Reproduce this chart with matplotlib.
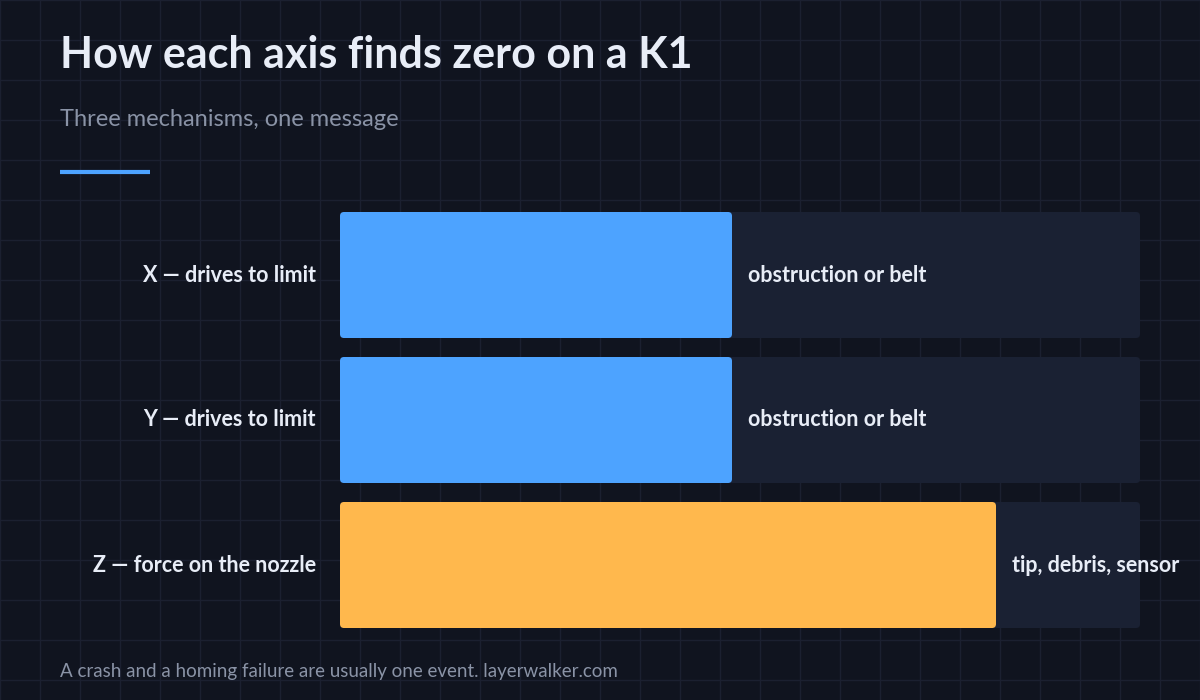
import matplotlib
matplotlib.use("Agg")
import matplotlib.pyplot as plt
from matplotlib.patches import FancyBboxPatch

categories = ["X — drives to limit", "Y — drives to limit", "Z — force on the nozzle"]
values = [49, 49, 82]
notes = ["obstruction or belt", "obstruction or belt", "tip, debris, sensor"]
colors = ["#4da3ff", "#4da3ff", "#ffb84d"]

BG = "#10141f"
TRACK = "#1a2133"
W, H = 1200, 700
plt.rcParams['font.family'] = ['Lato', 'DejaVu Sans']
fig = plt.figure(figsize=(12, 7), dpi=100, facecolor=BG)

bg = fig.add_axes([0, 0, 1, 1])
bg.set_xlim(0, W); bg.set_ylim(H, 0); bg.axis("off")
bg.set_facecolor(BG)
for x in range(0, W + 1, 40):
    bg.axvline(x, color="#1b2030", lw=1, zorder=0)
for y in range(0, H + 1, 40):
    bg.axhline(y, color="#1b2030", lw=1, zorder=0)
bg.text(60, 55, "How each axis finds zero on a K1", color="#e8edf7", fontsize=31, fontweight="bold", va="center")
bg.text(60, 120, "Three mechanisms, one message", color="#8a93a6", fontsize=17, va="center")
bg.plot([60, 150], [172, 172], color="#4da3ff", lw=3, solid_capstyle="butt")
bg.text(60, 671, "A crash and a homing failure are usually one event. layerwalker.com", color="#8a93a6", fontsize=13.5, va="center")

ax = fig.add_axes([340 / W, (H - 628) / H, 800 / W, 416 / H])
ax.axis("off")
ax.set_xlim(0, 100)
bh = 126 / 145
ax.set_ylim(2 + bh / 2, -bh / 2)
ry = 4 / 145
rx = 0.5
for i, (c, v, n, col) in enumerate(zip(categories, values, notes, colors)):
    ax.add_patch(FancyBboxPatch((0, i - bh / 2), 100, bh, boxstyle=f"round,pad=0,rounding_size={rx}",
                                mutation_aspect=ry / rx, fc=TRACK, ec="none"))
    ax.add_patch(FancyBboxPatch((0, i - bh / 2), v, bh, boxstyle=f"round,pad=0,rounding_size={rx}",
                                mutation_aspect=ry / rx, fc=col, ec="none"))
    ax.text(-3, i, c, ha="right", va="center", color="#e8edf7", fontsize=15.5, fontweight="bold")
    ax.text(v + 2, i, n, ha="left", va="center", color="#e8edf7", fontsize=15.5, fontweight="bold", clip_on=False)

fig.savefig("out.png", dpi=100, facecolor=BG)
